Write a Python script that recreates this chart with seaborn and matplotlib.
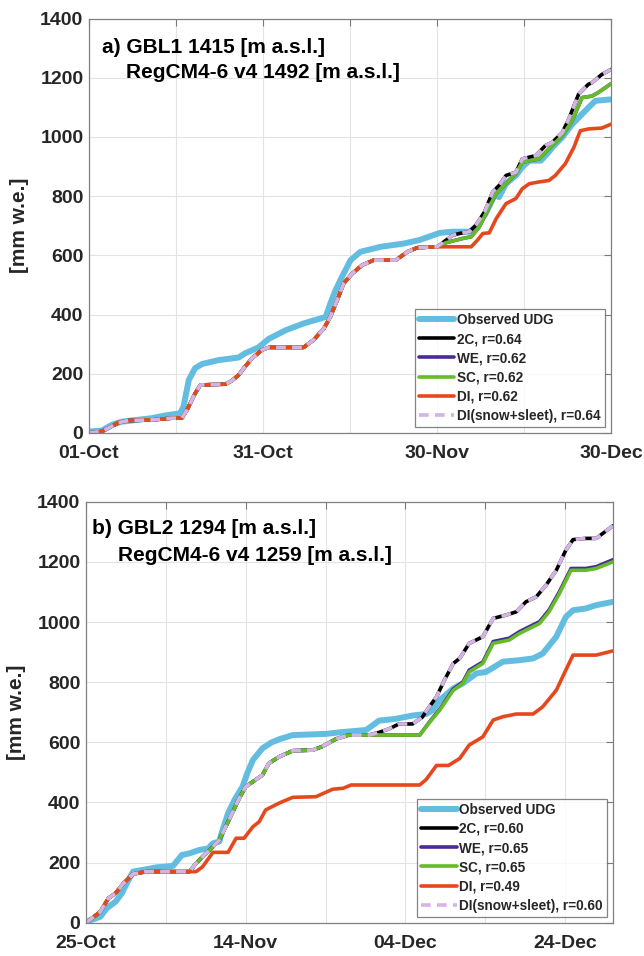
import matplotlib
matplotlib.use("Agg")
import matplotlib.pyplot as plt
import seaborn as sns
import numpy as np

# ---------------- data: panel a (days since 01-Oct) ----------------
a_xticks = [0, 15, 30, 45, 60, 75, 90]
a_xticklabels = ["01-Oct", "", "31-Oct", "", "30-Nov", "", "30-Dec"]

obs_a_x = [0, 2.2, 3.9, 5.6, 10.8, 13.7, 15.7, 16.3, 17.2, 18.3, 19.5, 22.3, 25.8, 26.9,
           29.2, 31.0, 33.9, 37.0, 40.8, 41.6, 42.5, 43.6, 45.1, 46.8, 50.3, 54.3, 57.0,
           60.5, 62.7, 65.6, 66.7, 68.4, 69.9, 70.7, 71.9, 73.6, 74.7, 75.9, 77.9, 79.0,
           79.9, 81.6, 83.3, 85.0, 86.1, 87.3, 90]
obs_a_y = [5, 8, 27, 38, 50, 61, 66, 89, 179, 219, 233, 246, 255, 269,
           289, 318, 347, 370, 392, 437, 482, 527, 584, 612, 629, 640, 652,
           676, 680, 680, 696, 741, 803, 797, 842, 870, 898, 920, 920, 943,
           965, 999, 1043, 1077, 1099, 1122, 1127]

di_a_x = [0, 2.2, 3.3, 5.1, 6.8, 10.8, 14.3, 16.0, 16.9, 18.3, 19.2, 23.5, 24.6, 25.8,
          26.9, 28.1, 29.8, 31.0, 37.0, 38.7, 40.5, 41.6, 42.8, 43.9, 45.4, 47.1, 49.1,
          52.9, 54.9, 56.6, 60.0, 65.9, 67.0, 67.9, 69.0, 70.2, 71.9, 73.6, 74.7, 75.9,
          77.6, 79.3, 80.4, 82.1, 83.6, 84.7, 86.1, 88.4, 90]
di_a_y = [0, 5, 16, 35, 42, 44, 50, 50, 78, 134, 162, 165, 176, 196,
          224, 252, 280, 289, 289, 314, 353, 392, 449, 505, 539, 567, 584,
          584, 612, 626, 629, 629, 652, 674, 676, 724, 775, 792, 825, 842,
          848, 853, 870, 909, 965, 1021, 1027, 1030, 1043]

# model runs identical to DI until end of November
common_a_x = di_a_x[:31]
common_a_y = di_a_y[:31]

c2_a_tail_x = [60.8, 61.6, 62.7, 63.9, 65.6, 66.7, 68.2, 69.6, 70.7, 71.9, 73.6, 74.7,
               77.0, 78.7, 79.9, 81.6, 82.7, 84.4, 86.1, 86.7, 88.4, 90]
c2_a_tail_y = [640, 652, 668, 674, 680, 702, 747, 814, 836, 870, 881, 926,
               937, 971, 982, 1015, 1060, 1144, 1178, 1183, 1211, 1228]

sc_a_tail_x = [61.6, 64.4, 65.9, 67.3, 69.0, 70.2, 71.6, 73.6, 74.7, 77.6, 79.3, 81.6,
               83.3, 85.0, 86.7, 87.8, 90]
sc_a_tail_y = [643, 657, 663, 696, 764, 808, 836, 876, 915, 926, 960, 1004,
               1054, 1133, 1138, 1150, 1180]

we_a_tail_x = sc_a_tail_x
we_a_tail_y = sc_a_tail_y

# ---------------- data: panel b (days since 25-Oct) ----------------
b_xticks = [0, 10, 20, 30, 40, 50, 60]
b_xticklabels = ["25-Oct", "", "14-Nov", "", "04-Dec", "", "24-Dec"]

obs_b_x = [0, 1.2, 1.8, 2.6, 3.7, 4.5, 5.1, 5.9, 7.0, 8.8, 10.9, 12.0, 13.0, 14.2, 15.3,
           15.9, 16.7, 17.1, 17.8, 18.6, 19.6, 20.2, 20.9, 22.1, 23.2, 24.3, 25.9, 30.1,
           31.7, 35.1, 36.7, 38.8, 40.9, 42.6, 43.4, 44.3, 46.0, 47.2, 48.9, 50.1, 52.2,
           54.3, 56.0, 57.2, 58.9, 60.1, 61.0, 62.6, 63.9, 66]
obs_b_y = [3, 14, 20, 48, 70, 98, 131, 170, 175, 184, 189, 225, 231, 242, 247,
           264, 270, 308, 364, 408, 452, 497, 541, 580, 599, 611, 624, 628,
           633, 641, 672, 678, 689, 694, 706, 740, 779, 796, 829, 834, 868,
           873, 879, 895, 951, 1017, 1039, 1045, 1056, 1067]

di_b_x = [0, 1.0, 1.8, 2.8, 3.7, 4.7, 5.9, 7.6, 13.8, 14.6, 15.9, 17.8, 18.8, 19.8,
          20.9, 21.7, 22.5, 24.2, 25.9, 28.8, 30.9, 32.2, 33.2, 41.8, 42.6, 43.9, 45.4,
          46.8, 48.0, 49.7, 51.0, 52.2, 53.9, 56.0, 57.2, 58.9, 59.9, 61.0, 63.9, 66]
di_b_y = [0, 20, 37, 81, 98, 131, 162, 170, 170, 186, 234, 234, 281, 281,
          319, 336, 375, 398, 417, 419, 444, 447, 458, 458, 476, 523, 523,
          546, 591, 618, 674, 685, 694, 694, 718, 773, 829, 890, 890, 904]

common_b_x = [0, 1.0, 1.8, 2.8, 3.7, 4.7, 5.9, 7.6, 13.0, 13.6, 14.6, 15.7, 16.7, 17.3,
              18.4, 19.2, 20.0, 20.9, 22.1, 22.9, 24.2, 25.9, 28.4, 29.6, 31.3, 32.9]
common_b_y = [0, 20, 37, 81, 98, 131, 162, 170, 170, 192, 220, 247, 275, 308,
              369, 414, 452, 469, 491, 530, 552, 572, 574, 586, 611, 624]

c2_b_tail_x = [35.4, 36.7, 37.9, 39.2, 40.9, 42.1, 43.0, 43.9, 44.9, 46.0, 46.8, 48.0,
               49.7, 51.0, 52.6, 53.9, 55.1, 56.4, 57.6, 58.9, 60.1, 61.0, 62.6, 63.9, 66]
c2_b_tail_y = [624, 633, 644, 661, 661, 683, 718, 751, 807, 862, 879, 929,
               951, 1012, 1023, 1034, 1067, 1084, 1122, 1172, 1239, 1274, 1278, 1278, 1320]

sc_b_tail_x = [41.8, 43.0, 44.3, 46.0, 47.2, 48.0, 49.7, 51.0, 53.0, 54.3, 55.5, 56.8,
               58.0, 59.3, 60.75, 62.6, 63.9, 66]
sc_b_tail_y = [624, 665, 707, 773, 796, 834, 862, 929, 940, 962, 978, 995,
               1034, 1095, 1172, 1172, 1178, 1200]

we_b_tail_x = sc_b_tail_x
we_b_tail_y = [624, 667, 710, 777, 800, 840, 867, 935, 946, 968, 984, 1001,
               1040, 1101, 1178, 1178, 1184, 1207]

labels_a = ["Observed UDG", "2C, r=0.64", "WE, r=0.62", "SC, r=0.62", "DI, r=0.62",
            "DI(snow+sleet), r=0.64"]
labels_b = ["Observed UDG", "2C, r=0.60", "WE, r=0.65", "SC, r=0.65", "DI, r=0.49",
            "DI(snow+sleet), r=0.60"]
title_a = ["a) GBL1 1415 [m a.s.l.]", "RegCM4-6 v4 1492 [m a.s.l.]"]
title_b = ["b) GBL2 1294 [m a.s.l.]", "RegCM4-6 v4 1259 [m a.s.l.]"]
yticks = [0, 200, 400, 600, 800, 1000, 1200, 1400]

# ---------------- style ----------------
sns.set_theme(style="white")
plt.rcParams["font.family"] = ["Liberation Sans", "DejaVu Sans"]
plt.rcParams["font.weight"] = "bold"
plt.rcParams["lines.scale_dashes"] = False

COL = {"obs": "#63bde0", "2c": "#000000", "we": "#4a2a96", "sc": "#66bb28",
       "di": "#e5481d", "diss": "#d4b4e6"}

fig = plt.figure(figsize=(6.44, 9.56), dpi=100)
ax_a = fig.add_axes([0.1382, 0.5471, 0.8106, 0.4335])
ax_b = fig.add_axes([0.1335, 0.0348, 0.8183, 0.4404])


def panel(ax, obs, c2, we, sc, di, diss, labels, xmax, xt, xtl, title, tx, ty):
    series = [(obs, COL["obs"], 4.3), (c2, COL["2c"], 2.6), (we, COL["we"], 2.6),
              (sc, COL["sc"], 2.6), (di, COL["di"], 2.6), (diss, COL["diss"], 2.6)]
    for (xs, ys), (_, c, lw), lab in zip([s[0] for s in series], series, labels):
        sns.lineplot(x=xs, y=ys, ax=ax, color=c, linewidth=lw, label=lab,
                     estimator=None, sort=False)
    ax.lines[-1].set_dashes([7, 4.5])
    ax.set_xlim(0, xmax)
    ax.set_ylim(0, 1400)
    ax.set_xticks(xt)
    ax.set_xticklabels(xtl)
    ax.set_yticks(yticks)
    ax.grid(True, color="#e3e3e3", linewidth=0.8)
    ax.set_axisbelow(True)
    ax.tick_params(direction="in", length=5, width=0.8, top=True, right=True,
                   colors="#7a7a7a", labelcolor="#262626", labelsize=14, pad=4)
    ax.tick_params(axis="x", pad=9)
    for lab in ax.get_xticklabels() + ax.get_yticklabels():
        lab.set_fontweight("bold")
    for sp in ax.spines.values():
        sp.set_color("#808080")
        sp.set_linewidth(0.9)
    ax.set_ylabel("[mm w.e.]", fontsize=15, fontweight="bold", color="#262626",
                  labelpad=8)
    ax.set_xlabel("")
    ax.text(tx[0], ty[0], title[0], transform=ax.transAxes, fontsize=15,
            fontweight="bold", va="center", ha="left", color="black")
    ax.text(tx[1], ty[1], title[1], transform=ax.transAxes, fontsize=15,
            fontweight="bold", va="center", ha="left", color="black")
    leg = ax.legend(loc="lower right", frameon=True, fancybox=False, fontsize=9.8,
                    handlelength=2.6, handletextpad=0.2, labelspacing=0.38,
                    borderpad=0.3, borderaxespad=0.45)
    leg.get_frame().set_edgecolor("#666666")
    leg.get_frame().set_linewidth(0.9)
    for t in leg.get_texts():
        t.set_fontweight("bold")


panel(ax_a,
      (obs_a_x, obs_a_y),
      (common_a_x + c2_a_tail_x, common_a_y + c2_a_tail_y),
      (common_a_x + we_a_tail_x, common_a_y + we_a_tail_y),
      (common_a_x + sc_a_tail_x, common_a_y + sc_a_tail_y),
      (di_a_x, di_a_y),
      (common_a_x + c2_a_tail_x, common_a_y + c2_a_tail_y),
      labels_a, 90, a_xticks, a_xticklabels, title_a, (0.024, 0.071), (0.929, 0.869))

panel(ax_b,
      (obs_b_x, obs_b_y),
      (common_b_x + c2_b_tail_x, common_b_y + c2_b_tail_y),
      (common_b_x + we_b_tail_x, common_b_y + we_b_tail_y),
      (common_b_x + sc_b_tail_x, common_b_y + sc_b_tail_y),
      (di_b_x, di_b_y),
      (common_b_x + c2_b_tail_x, common_b_y + c2_b_tail_y),
      labels_b, 66, b_xticks, b_xticklabels, title_b, (0.012, 0.06), (0.9375, 0.873))

fig.savefig("out.png", dpi=100, facecolor="white")
